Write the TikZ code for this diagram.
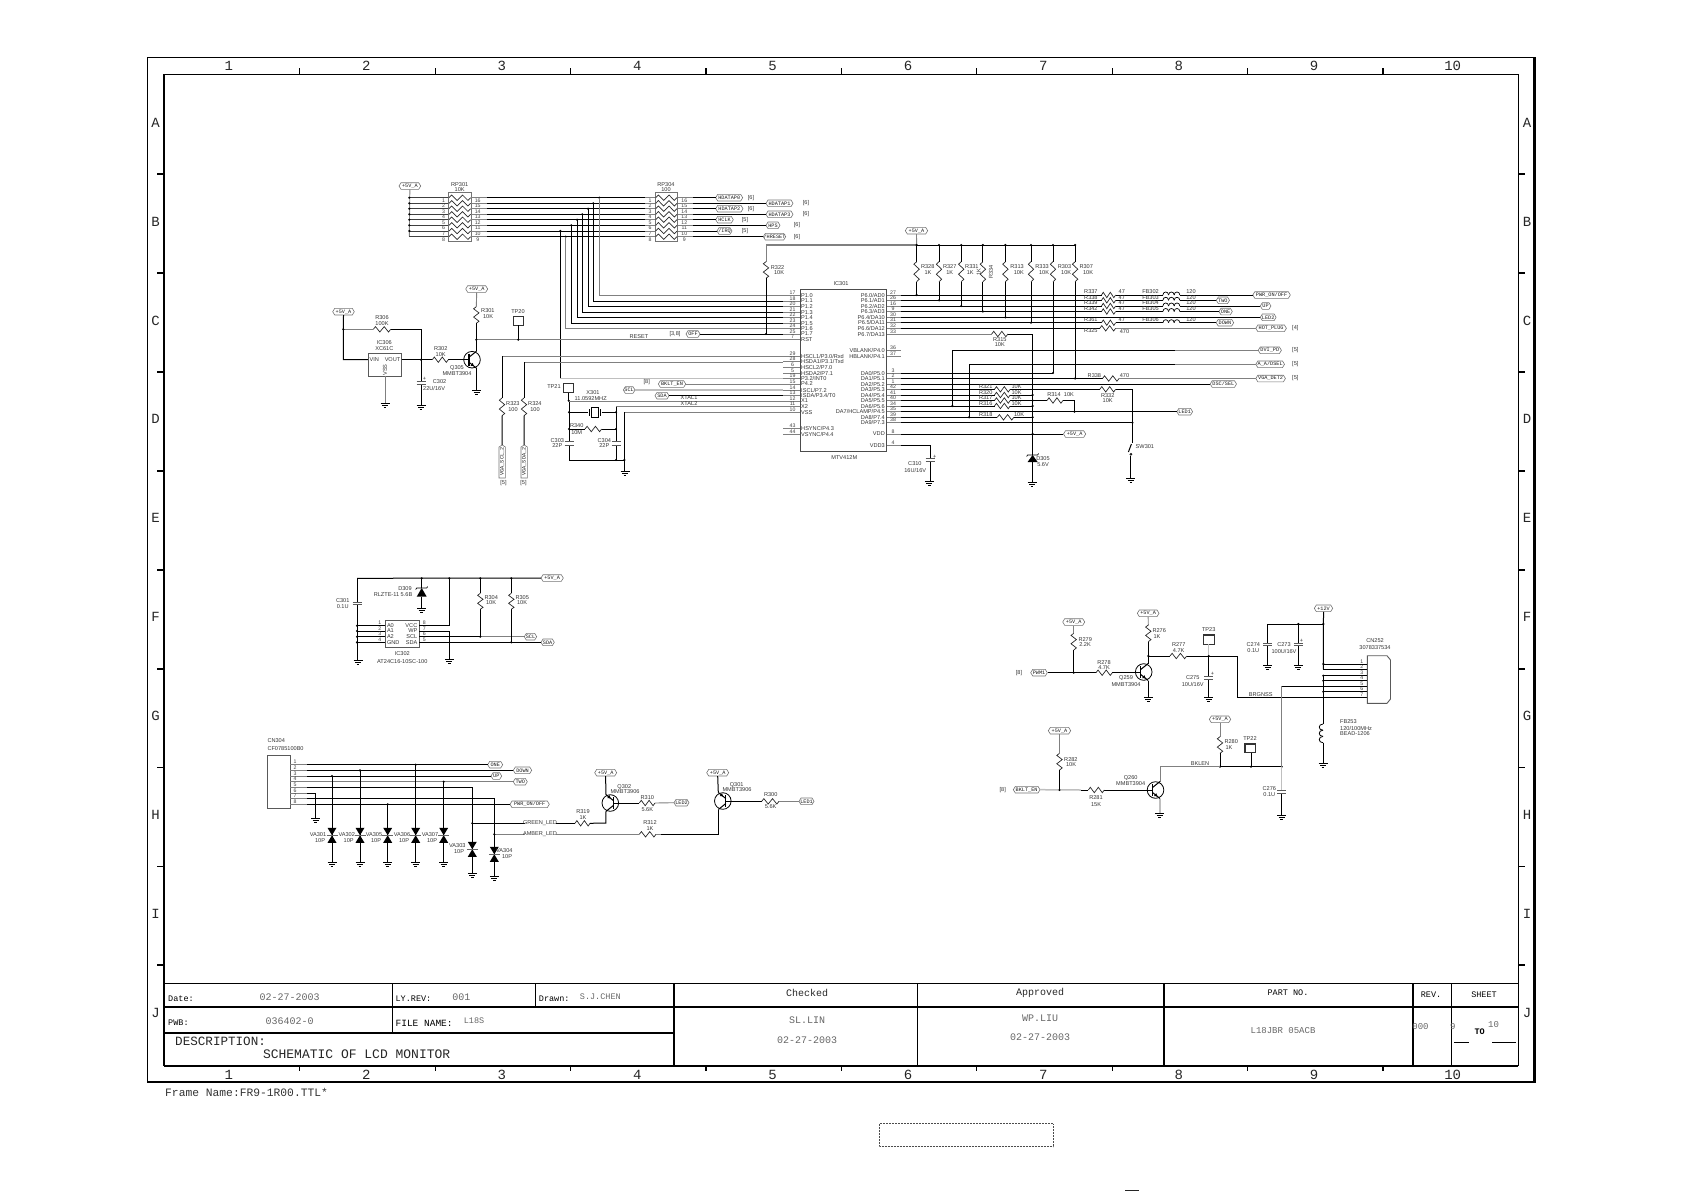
\documentclass[tikz,border=0pt]{standalone}
\usepackage{fontspec}
\setmainfont{Liberation Sans}
\newfontfamily\monof{Liberation Mono}
\newcounter{nn}
\tikzset{
 wb/.style={line width=1pt,black},
 wg/.style={line width=.9pt,black!50},
 wl/.style={line width=1.5pt,black!25},
 zz/.style={line width=.7pt,black!85},
 thin1/.style={line width=.7pt,black!65},
 lab/.style={inner sep=0pt,text=black!80,font=\fontsize{5.6}{6}\selectfont},
 pinn/.style={inner sep=0pt,text=black!75,font=\fontsize{5.2}{6}\selectfont},
 flg/.style={inner sep=0pt,minimum height=6.6pt,text=black!90,font=\monof\fontsize{5.2}{6}\selectfont},
 fline/.style={line width=.6pt,black!55},
 grid/.style={inner sep=0pt,text=black!85,font=\monof\fontsize{14}{15}\selectfont},
 tb/.style={inner sep=0pt,text=black,font=\monof\fontsize{#1}{12}\selectfont},
 tv/.style={inner sep=0pt,text=black!60,font=\monof\fontsize{#1}{12}\selectfont},
}
\newcommand{\LbC}[3]{\stepcounter{nn}\node[lab] (t\thenn) at ({#1},{#2}) {#3};}
\newcommand{\LbW}[3]{\stepcounter{nn}\node[lab,anchor=west] (t\thenn) at ({#1},{#2}) {#3};}
\newcommand{\LbE}[3]{\stepcounter{nn}\node[lab,anchor=east] (t\thenn) at ({#1},{#2}) {#3};}
\newcommand{\Pn}[3]{\stepcounter{nn}\node[pinn] (t\thenn) at ({#1},{#2}) {#3};}
\newcommand{\Zh}[3]{\pgfmathsetmacro\zd{(#2-#1)/8}\draw[zz] ({#1},{#3}) -- ++(\zd,-2.7) -- ++({2*\zd},5.4) -- ++({2*\zd},-5.4) -- ++({2*\zd},5.4) -- ++(\zd,-2.7);}
\newcommand{\Zv}[3]{\pgfmathsetmacro\zd{(#3-#2)/8}\draw[zz] ({#1},{#2}) -- ++(-2.7,\zd) -- ++(5.4,{2*\zd}) -- ++(-5.4,{2*\zd}) -- ++(5.4,{2*\zd}) -- ++(-2.7,\zd);}
\newcommand{\Gnd}[2]{\draw[wb,line width=.8pt] ({#1-4.5},{#2})--({#1+4.5},{#2}) ({#1-3},{#2+2})--({#1+3},{#2+2}) ({#1-1.3},{#2+4})--({#1+1.3},{#2+4});}
\newcommand{\Jd}[2]{\fill ({#1},{#2}) circle[radius=1.2pt];}
\newcommand{\Capa}[3]{\draw[thin1,line width=1pt] ({#1-4.5},{#2})--({#1+4.5},{#2}) ({#1-4.5},{#3})--({#1+4.5},{#3});}
\newcommand{\Fl}[5]{\pgfmathsetmacro\fw{#3-#2}\pgfmathsetmacro\fc{(#2+#3)/2}%
 \node[flg,minimum width=\fw pt] (#1) at (\fc,#4) {#5};%
 \draw[fline] (#2,#4) -- ({#2+2},{#4-3.3}) -- ({#3-2},{#4-3.3}) -- (#3,#4) -- ({#3-2},{#4+3.3}) -- ({#2+2},{#4+3.3}) -- cycle;}
\newcommand{\Tn}[3]{\begin{scope}[shift={(#1,#2)},xscale=#3]
 \draw[line width=.8pt] (0,0) circle[radius=8.3pt];
 \draw[wb,line width=1.2pt] (-3,-6)--(-3,6);
 \draw[wb] (-3,-2.5)--(4.5,-8.5) (-3,2.5)--(4.5,8.5);
 \fill (1.9,6.4)--(0.7,3.2)--(-1.5,6)--cycle;
\end{scope}}
\newcommand{\Tp}[3]{\begin{scope}[shift={(#1,#2)},xscale=#3]
 \draw[line width=.8pt] (0,0) circle[radius=8.3pt];
 \draw[wb,line width=1.2pt] (-3,-6)--(-3,6);
 \draw[wb] (-3,-2.5)--(4.5,-8.5) (-3,2.5)--(4.5,8.5);
 \fill (-.4,-4.6)--(3,-5)--(.8,-7.8)--cycle;
\end{scope}}
\newcommand{\Va}[2]{\fill ({#1-4.5},{#2-7.5})--({#1+4.5},{#2-7.5})--(#1,#2)--({#1+4.5},{#2+7.5})--({#1-4.5},{#2+7.5})--(#1,#2)--cycle; \draw[line width=.5pt,black!60] ({#1-5.5},#2)--({#1+5.5},#2);}
\newcommand{\Zen}[3]{\fill ({#1-5},#3)--({#1+5},#3)--(#1,#2)--cycle; \draw[line width=.7pt] ({#1-6},{#2+1.5})--({#1-5},#2)--({#1+5},#2)--({#1+6},{#2-1.5});}
\newcommand{\Coilh}[3]{\pgfmathsetmacro\cw{(#2-#1)/3}\foreach \ci in {0,1,2}{\draw[wb,line width=.7pt] ({#1+\ci*\cw},#3) .. controls ({#1+\ci*\cw},{#3-4}) and ({#1+(\ci+1)*\cw},{#3-4}) .. ({#1+(\ci+1)*\cw},#3);}}
\begin{document}
\begin{tikzpicture}[x=1pt,y=-1pt]
\useasboundingbox (0,0) rectangle (1685,1191);
% ---------- frame
\draw[line width=1.3pt] (147.3,57.3) rectangle (1534.4,1082);
\draw[line width=2.4pt] (1534.4,57.3)--(1534.4,1082)--(147.3,1082);
\draw[line width=1.3pt] (164,74.3) rectangle (1518.3,1065.7);
\draw[line width=2.8pt] (164,74.3)--(164,1065.7);
\draw[line width=2.2pt] (164,1065.7)--(1518.3,1065.7);
\foreach \k in {0,...,8}{
 \draw[line width=1.1pt] ({299.8+135.4*\k},68)--({299.8+135.4*\k},74.3) ({299.8+135.4*\k},1065.7)--({299.8+135.4*\k},1070.5);}
\foreach \yy in {174,273,372,471,570,669,767.6,866.5,965}{
 \draw[line width=1.1pt] (157,\yy)--(164,\yy) (1518.3,\yy)--(1525.3,\yy);}
\foreach \xx/\n in {228.9/1,366.4/2,501.8/3,637.2/4,772.6/5,908/6,1043.3/7,1178.7/8,1314/9,1452.7/10}{
 \stepcounter{nn}\node[grid] (t\thenn) at (\xx,66) {\n};
 \stepcounter{nn}\node[grid] (t\thenn) at (\xx,1075) {\n};}
\foreach \yy/\n in {122.5/A,221.5/B,320.4/C,419/D,518/E,617/F,716/G,815/H,914/I,1012.6/J}{
 \stepcounter{nn}\node[grid] (t\thenn) at (155.5,\yy) {\n};
 \stepcounter{nn}\node[grid] (t\thenn) at (1527,\yy) {\n};}
% ---------- title block
\draw[line width=1.3pt] (164,983.3)--(1518.3,983.3);
\draw[line width=2pt] (164,1007.3)--(1518.3,1007.3) (164,1032.7)--(673.7,1032.7);
\draw[line width=.9pt] (392.2,983.3)--(392.2,1032.7) (535,983.3)--(535,1007.3) (917.6,983.3)--(917.6,1065.7);
\draw[line width=1.6pt] (673.7,983.3)--(673.7,1065.7) (1163.7,983.3)--(1163.7,1065.7) (1413,983.3)--(1413,1065.7) (1451.6,983.3)--(1451.6,1065.7);
\draw[line width=.9pt] (1454,1042)--(1469,1042) (1492,1042)--(1516,1042);
\node[tb=8.5,anchor=west] (dateL) at (168,999) {Date:};
\node[tv=10] (dateV) at (289.6,996.7) {02-27-2003};
\node[tb=8.5,anchor=west] (lyL) at (395.4,999) {LY.REV:};
\node[tv=10] (lyV) at (461.4,996.7) {001};
\node[tb=8.5,anchor=west] (drL) at (538.7,999) {Drawn:};
\node[tv=8.5,anchor=west] (drV) at (579.7,997) {S.J.CHEN};
\node[tb=8.5,anchor=west] (pwbL) at (168,1023) {PWB:};
\node[tv=10] (pwbV) at (289.6,1021) {036402-0};
\node[tb=9.5,anchor=west] (fnL) at (395.4,1023) {FILE NAME:};
\node[tv=8.5] (fnV) at (474,1021) {L18S};
\node[tb=12.6,anchor=west,text=black!85] (descL) at (175,1041.7) {DESCRIPTION:};
\node[tb=13,anchor=west,text=black!85] (descV) at (262.8,1054.6) {SCHEMATIC OF LCD MONITOR};
\node[tb=10,text=black!85] (chk) at (807,993) {Checked};
\node[tv=10] (chk1) at (807,1020) {SL.LIN};
\node[tv=10] (chk2) at (807,1040) {02-27-2003};
\node[tb=10,text=black!85] (app) at (1040,993) {Approved};
\node[tv=10] (app1) at (1040,1018) {WP.LIU};
\node[tv=10] (app2) at (1040,1037) {02-27-2003};
\node[tb=8.5] (part) at (1288,993) {PART NO.};
\node[tv=9] (partV) at (1283,1031) {L18JBR 05ACB};
\node[tb=8.5] (rev) at (1431,995) {REV.};
\node[tb=8.5] (sheet) at (1484,995) {SHEET};
\node[tv=9] (revV) at (1420.5,1027) {000};
\node[tv=9] (sh1) at (1452.7,1027) {9};
\node[tv=9] (sh2) at (1493.6,1025) {10};
\node[tb=8.5,font=\monof\bfseries\fontsize{8.5}{10}\selectfont] (sh3) at (1479.6,1032) {TO};
\node[tb=11.3,anchor=west,text=black!80] (frm) at (165,1092.7) {Frame Name:FR9-1R00.TTL*};
\draw[line width=.5pt,densely dotted,black!70] (879,1123.5) rectangle (1053,1146.5);
\fill[black!85] (1125,1189.6) rectangle (1139,1191);
% ---------- RP301 / RP304
\Fl{fa}{399}{420.7}{186}{+5V\_A}
\draw[wg] (fa.south)--(409.3,236.3);
\draw[fline,line width=.8pt] (448.3,192.3) rectangle (471.3,241.7);
\draw[fline,line width=.8pt] (655,192.3) rectangle (677.7,241.7);
\LbC{459.7}{184.3}{RP301}\LbC{459.7}{189.7}{10K}
\LbC{666}{184.3}{RP304}\LbC{666}{189.7}{100}
\foreach \yy/\n/\m [count=\i] in {197.7/1/16,203.3/2/15,208.7/3/14,214.3/4/13,219.7/5/12,225.3/6/11,231/7/10,236.7/8/9}{
 \draw[wb,black!75] (409.3,\yy)--(448.3,\yy);
 \ifnum\i<8 \Jd{409.3}{\yy}\fi
 \Zh{449}{470.6}{\yy}\Zh{655.7}{677}{\yy}
 \Pn{443.5}{\yy+2.6}{\n}\Pn{477.7}{\yy+2.6}{\m}\Pn{650}{\yy+2.6}{\n}\Pn{684.3}{\yy+2.6}{\m}
 \draw[wg] (471.3,\yy)--(487.3,\yy) (645,\yy)--(655,\yy) (677.7,\yy)--(693,\yy);
 \draw[wb] (487.3,\yy)--(645,\yy);}
\Fl{hd0}{715.7}{742.7}{197.7}{HDATAP0}\Fl{hd1}{766}{793}{203.3}{HDATAP1}
\Fl{hd2}{715.7}{743}{208.7}{HDATAP2}\Fl{hd3}{766}{793}{214.3}{HDATAP3}
\Fl{hck}{715.7}{733.3}{219.7}{HCLK}\Fl{hps}{766}{780}{225.3}{HPS}
\Fl{irq}{717}{732}{231}{/IRQ}\Fl{hrs}{763.3}{785.7}{236.7}{/HRESET}
\foreach \f/\yy in {hd0/197.7,hd1/203.3,hd2/208.7,hd3/214.3,hck/219.7,hps/225.3,irq/231,hrs/236.7}{\draw[wb] (693,\yy)--(\f.west);}
\LbC{751}{197.7}{[6]}\LbC{806}{203.3}{[6]}\LbC{751}{208.7}{[6]}\LbC{806}{214.3}{[6]}
\LbC{745}{219.7}{[5]}\LbC{797}{225.3}{[6]}\LbC{745}{231}{[5]}\LbC{797}{236.7}{[6]}
% bus to IC
\foreach \xx/\ya/\yb in {599.3/197.7/295.3,593.3/203.3/301,588/208.7/306.7,582.3/214.3/312.3,577/219.7/317.7,571.3/225.3/323.3,565.7/236.7/328.7}{
 \Jd{\xx}{\ya}
 \draw[wb] (\xx,\ya)--(\xx,\yb)--(783,\yb);}
\draw[wg,line width=1.1pt] (599.3,197.7)--(599.3,295.3)--(783,295.3);
\draw[wg,line width=1.1pt] (565.7,236.7)--(565.7,328.7)--(783,328.7);
\Jd{560.3}{231}
\draw[wb] (560.3,231)--(560.3,378.7);
\draw[wl] (560.3,378.7)--(800,378.7);
% IC301
\draw[line width=.9pt,black!70] (800,289.3) rectangle (886,451.7);
\LbC{841}{284}{IC301}\LbC{844.3}{457.5}{MTV412M}
\foreach \yy/\n/\tx in {295.3/17/P1.0,301/18/P1.1,306.7/20/P1.2,312.3/21/P1.3,317.7/22/P1.4,323.3/23/P1.5,328.7/24/P1.6,334/25/P1.7,339.7/7/RST,356.3/29/{HSCL1/P3.0/Rxd},361.7/28/{HSDA1/P3.1/Txd},367.3/6/{HSCL2/P7.0},373/5/{HSDA2/P7.1},378.7/19/{P3.2/INT0},384/15/P4.2,390/14/{ISCL/P7.2},395.7/13/{ISDA/P3.4/T0},401/12/X1,406.7/11/X2,412.3/10/VSS,428.7/43/{HSYNC/P4.3},434.3/44/{VSYNC/P4.4}}{
 \draw[wg] (783,\yy)--(800,\yy);
 \Pn{792.5}{\yy-2.7}{\n}
 \LbW{801}{\yy}{\tx}}
\foreach \yy/\n/\tx in {295/27/{P6.0/AD0},300.3/26/{P6.1/AD1},306/16/{P6.2/AD2},311.5/9/{P6.3/AD3},317.3/30/{P6.4/DA10},322.7/31/{P6.5/DA11},328.3/32/{P6.6/DA12},334/33/{P6.7/DA13},350.3/36/{VBLANK/P4.0},356/37/{HBLANK/P4.1},373/3/{DA0/P5.0},378.5/2/{DA1/P5.1},384/1/{DA2/P5.2},389.3/42/{DA3/P5.3},395/41/{DA4/P5.4},400.5/40/{DA5/P5.5},406/34/{DA6/P5.6},411.7/35/{DA7/HCLAMP/P4.5},417.3/39/{DA8/P7.4},422.7/38/{DA9/P7.3},434/8/VDD,445.3/4/VDD3}{
 \draw[wg] (887,\yy)--(901.3,\yy);
 \Pn{893}{\yy-2.7}{\n}
 \LbE{885}{\yy}{\tx}}
% +5V bus and pull-ups
\Fl{fb}{905.3}{927.7}{230.7}{+5V\_A}
\draw[wg] (fb.south)--(916.6,245);
\draw[wg,line width=1.1pt] (766,245)--(916.6,245);
\draw[wb] (916.6,245)--(1075.1,245);
\foreach \xx/\yy in {916.6/295,939/300.3,961.2/306,982.9/311.5,1005.4/317.3,1031/322.7,1053/373,1075.1/378.5}{
 \Jd{\xx}{245}\Jd{\xx}{\yy}
 \draw[wb] (\xx,245)--(\xx,261.7) (\xx,281.7)--(\xx,\yy);
 \Zv{\xx}{261.7}{281.7}}
\LbW{920.8}{267}{R328}\LbC{928}{273}{1K}\LbW{942.8}{267}{R327}\LbC{949.7}{273}{1K}
\LbW{965}{267}{R331}\LbC{970.2}{273}{1K}
\node[lab,rotate=90] (r334) at (991,272) {R334};\node[lab,rotate=90] (r334v) at (978.8,272) {1K};
\LbW{1010.2}{267}{R313}\LbC{1018.8}{273}{10K}\LbW{1035.2}{267}{R333}\LbC{1044}{273}{10K}
\LbW{1057.6}{267}{R303}\LbC{1066.2}{273}{10K}\LbW{1079.3}{267}{R307}\LbC{1088}{273}{10K}
% R322
\draw[wg] (766,245)--(766,261.7);
\Zv{766}{261.7}{278.3}
\draw[wb] (766,278.3)--(766,334);
\LbW{770.7}{267.3}{R322}\LbC{779}{273}{10K}
\Fl{foff}{686}{700}{334}{OFF}\LbC{675}{334}{[3,8]}
\draw[wb] (foff.east)--(783,334);\Jd{766}{334}
% reset
\draw[wg] (476.3,339.7)--(783,339.7);
\LbC{639}{336.5}{RESET}
% feed rows to right
\Fl{fpwr}{1252.8}{1290.3}{295}{PWR\_ON/OFF}\Fl{ftwo}{1216.3}{1229.5}{300.3}{TWO}
\Fl{fup}{1260.3}{1270.9}{306}{UP}\Fl{fone}{1219}{1232.3}{311.5}{ONE}
\Fl{fdown}{1216.2}{1233.7}{322.7}{DOWN}
\foreach \yy/\f in {295/fpwr,300.3/ftwo,306/fup,311.5/fone,322.7/fdown}{
 \draw[wb] (901.3,\yy)--(1101.5,\yy) (1115.6,\yy)--(1162.9,\yy) (1179.8,\yy)--(\f.west);
 \Zh{1101.5}{1115.6}{\yy}\Coilh{1162.9}{1179.8}{\yy}}
\foreach \yy/\a/\b in {292/R337/FB302,297.3/R338/FB303,303/R339/FB304,309/R342/FB305,319.5/R361/FB306}{
 \LbC{1090.9}{\yy}{\a}\LbC{1121.8}{\yy}{47}\LbC{1150.5}{\yy}{\b}\LbC{1191}{\yy}{120}}
\Fl{fled2}{1260.3}{1276.1}{317.3}{LED2}
\draw[wb] (901.3,317.3)--(fled2.west);
\Fl{fhot}{1255.8}{1286.4}{328.3}{HOT\_PLUG}\LbC{1295.3}{328.3}{[4]}
\draw[wb] (901.3,328.3)--(1099.8,328.3);\Zh{1099.8}{1115.6}{328.3}
\draw[wg] (1115.6,328.3)--(fhot.west);
\LbC{1090.9}{331}{R325}\LbC{1124.5}{331.7}{470}
% R315
\draw[wg] (901.3,334)--(991.7,334);\Zh{991.7}{1007.9}{334}
\draw[wb] (1007.9,334)--(1032.6,334)--(1032.6,455);
\LbC{999.8}{340}{R315}\LbC{999.8}{345}{10K}
% DVI / AA
\Fl{fdvi}{1258.2}{1281.4}{350.3}{DVI\_PD}\LbC{1295.3}{350.3}{[5]}
\draw[wb] (952.4,350.3)--(1174.8,350.3);\draw[wg] (1174.8,350.3)--(fdvi.west);
\draw[wb] (952.4,350.3)--(952.4,406);\Jd{952.4}{406}
\Fl{faa}{1255.8}{1284.5}{364.3}{A\_A/DSEL}\LbC{1295.3}{364.3}{[5]}
\draw[wb] (969,364.3)--(1174.8,364.3);\draw[wg] (1174.8,364.3)--(faa.west);
\draw[wb] (969,364.3)--(969,417.3);\Jd{969}{417.3}
% DA0, DA1
\draw[wb] (901.3,373)--(1053,373);
\draw[wb] (901.3,378.5)--(1102.5,378.5);\Zh{1102.5}{1119}{378.5}
\Fl{fvga}{1255.8}{1285.4}{378.5}{VGA\_DET2}\LbC{1295.3}{378.5}{[5]}
\draw[wg] (1119,378.5)--(fvga.west);
\LbC{1094.4}{375.7}{R338}\LbC{1124.5}{376}{470}
\Fl{fdsc}{1210.2}{1236.5}{384}{DSC/SEL}
\draw[wb] (901.3,384)--(fdsc.west);
% R321 group
\foreach \yy/\a in {389.3/R321,395/R320,400.5/R317,406/R316}{
 \draw[wb] (901.3,\yy)--(994.5,\yy) (1010.2,\yy)--(1032.6,\yy);
 \Zh{994.5}{1010.2}{\yy}
 \LbC{985.7}{\yy-2.5}{\a}\LbC{1016.5}{\yy-2.5}{10K}}
\Jd{1032.6}{395}\Jd{1032.6}{400.5}\Jd{1032.6}{406}\Jd{1032.6}{417.3}\Jd{1032.6}{434}
\draw[wb] (1032.6,400.5)--(1047,400.5) (1062.9,400.5)--(1074.4,400.5)--(1074.4,411.7);
\Zh{1047}{1062.9}{400.5}\Jd{1074.4}{411.7}
\LbC{1054}{395}{R314}\LbC{1068.9}{395}{10K}
\Fl{fled1}{1176.8}{1192.6}{411.7}{LED1}
\draw[wb] (901.3,411.7)--(fled1.west);
\draw[wb] (901.3,417.3)--(997.3,417.3) (1013.8,417.3)--(1032.6,417.3);
\Zh{997.3}{1013.8}{417.3}
\LbC{985.7}{415}{R318}\LbC{1019}{415}{10K}
% R332, SW
\draw[wb] (1032.6,389.3)--(1099.8,389.3) (1115.6,389.3)--(1132.4,389.3)--(1132.4,443);
\Zh{1099.8}{1115.6}{389.3}
\LbC{1107.7}{395.7}{R332}\LbC{1107.7}{400.7}{10K}
\draw[wb] (901.3,422.7)--(1132.4,422.7);\Jd{1132.4}{422.7}
\draw[wb] (1128.4,452)--(1131.4,444);
\draw[line width=.6pt] (1130.9,454.3) circle[radius=1pt];
\draw[wb] (1130.9,455.5)--(1130.9,478);
\Gnd{1130.9}{478}
\LbC{1144.9}{447}{SW301}
% VDD, VDD3
\Fl{fvdd}{1063.5}{1085.7}{434}{+5V\_A}
\draw[wb] (901.3,434)--(fvdd.west);
\draw[wb] (901.3,445.3)--(930.2,445.3)--(930.2,458.3) (930.2,461.7)--(930.2,481);
\Capa{930.2}{458.3}{461.7}\Gnd{929.4}{481}
\LbC{914.9}{464}{C310}\LbC{915.2}{470}{16U/16V}\LbC{934.8}{457}{+}
% D305
\Zen{1032.6}{455}{462}
\draw[wb] (1032.6,462)--(1032.6,482);\Gnd{1032.1}{482}
\LbC{1043}{459}{D305}\LbC{1043}{464.5}{5.6V}
% ---------- left of IC
\Fl{f5c}{465.7}{487.7}{289}{+5V\_A}
\draw[wg] (f5c.south)--(476.3,306.7);
\Zv{476.3}{306.7}{323.3}
\draw[wb] (476.3,323.3)--(476.3,351.3) (476.5,368.2)--(476.5,390);
\Jd{476.3}{339.7}\Gnd{476.5}{390}
\LbW{481}{311}{R301}\LbC{488}{317}{10K}
\Tn{472}{359.7}{1}
\LbC{457}{367.7}{Q305}\LbC{457}{373.7}{MMBT3904}
\draw[wb,line width=1.2pt,black!80] (513.3,316.7) rectangle (523.3,325.3);
\LbC{518}{311.7}{TP20}
\draw[wb] (518.3,325.3)--(518.3,339.7);\Jd{518.3}{339.7}
% IC306
\Fl{f5d}{332.7}{354.3}{311.7}{+5V\_A}
\draw[wb] (f5d.south)--(343.3,359.7)--(368.3,359.7);
\draw[wg] (343.3,329.3)--(373.3,329.3);\Zh{373.3}{390.7}{329.3}
\draw[wb] (390.7,329.3)--(421,329.3)--(421,381.5) (421,384.5)--(421,405);
\Jd{343.3}{329.3}\Jd{421}{359.7}
\Capa{421}{381.5}{384.5}\Gnd{421}{405}
\LbC{382}{317.7}{R306}\LbC{382}{323.5}{100K}
\draw[line width=.8pt,black!65] (368.3,353.7) rectangle (401.7,376.3);
\LbC{384.3}{343}{IC306}\LbC{384.3}{349}{XC61C}
\LbW{369.5}{360}{VIN}\LbE{400.5}{360}{VOUT}
\node[lab,rotate=90] (vss6) at (385,370) {VSS};
\draw[wg] (385,376.3)--(385,403);\Gnd{385}{403}
\draw[wb] (401.7,359.7)--(432.3,359.7) (448.3,359.7)--(469,359.7);
\Zh{432.3}{448.3}{359.7}
\LbC{440.7}{348.7}{R302}\LbC{440.7}{354.3}{10K}
\LbW{432.7}{382}{C302}\LbW{423}{388.2}{22U/16V}\LbC{424.5}{378.5}{+}
% R323, R324
\draw[wg] (502,356.3)--(783,356.3);\draw[wg] (524,362)--(783,362);
\draw[wb] (502,356.3)--(502,398) (524,362)--(524,398);
\Zv{502}{398}{415.7}\Zv{524}{398}{415.7}
\LbW{506}{404}{R323}\LbC{513}{410}{100}\LbW{528}{404}{R324}\LbC{535}{410}{100}
\node[flg,rotate=90,minimum width=33pt,minimum height=6pt] (vsc) at (502.2,461.5) {VGA\_SCL\_2};
\node[flg,rotate=90,minimum width=33pt,minimum height=6pt] (vsd) at (524.2,461.5) {VGA\_SDA\_2};
\draw[fline] (499,447)--(502.2,445)--(505.4,447)--(505.4,478)--(499,478)--cycle;
\draw[fline] (521,447)--(524.2,445)--(527.4,447)--(527.4,478)--(521,478)--cycle;
\draw[wb] (502,415.7)--(vsc.east) (524,415.7)--(vsd.east);
\LbC{503.5}{482.7}{[5]}\LbC{523.5}{482.7}{[5]}
% TP21 and crystal
\draw[wb,line width=1.2pt,black!80] (563.3,383.3) rectangle (573.7,392.7);
\LbC{554}{386.7}{TP21}
\draw[wb] (568.7,392.7)--(568.7,400.7);\Jd{568.7}{400.7}
\draw[wb] (569,400.7)--(569,441.7) (569,445)--(569,460)--(625,460);
\Capa{569}{441.7}{445}
\Jd{569}{412.3}\Jd{569}{429}
\draw[wb] (569,412.3)--(588,412.3) (601.7,412.3)--(616,412.3);
\draw[wb] (589.2,409)--(589.2,415.6) (600.5,409)--(600.5,415.6);
\draw[line width=.7pt] (591,407.5) rectangle (598.7,417);
\draw[wb] (569,429)--(585,429) (601.7,429)--(616,429);
\Zh{585}{601.7}{429}
\LbC{593}{392.7}{X301}\LbC{590.7}{398.7}{11.0592MHZ}
\LbC{576.7}{426}{R340}\LbC{576.7}{432.7}{10M}
\draw[wg] (569,401)--(783,401);\LbC{689}{398}{XTAL1}
\draw[wg] (616,406.7)--(783,406.7);\LbC{689}{403.7}{XTAL2}
\draw[wg] (624.3,412.3)--(783,412.3);
\draw[wb] (616,406.7)--(616,441.7) (616,445)--(616,460);
\Capa{616}{441.7}{445}\Jd{616}{429}\Jd{616}{460}\Jd{616}{412.3}
\draw[wb] (624.3,412.3)--(624.3,471);\Jd{624.3}{460}\Gnd{625}{471}
\LbC{557.3}{440.7}{C303}\LbC{557.3}{446}{22P}\LbC{604.3}{440.7}{C304}\LbC{604.3}{446}{22P}
\Fl{fscl}{623.3}{635}{390}{SCL}
\draw[wl] (fscl.east)--(783,390);
\Fl{fsda}{655}{669}{395.7}{SDA}
\draw[wb] (fsda.east)--(783,395.7);
\Fl{fbk}{658.3}{685.7}{384}{BKLT\_EN}\LbC{646.7}{382}{[8]}
\draw[wg] (fbk.east)--(783,384);
% ---------- EEPROM
\Fl{fe}{541}{563.3}{578}{+5V\_A}
\draw[wb] (357,578.3)--(fe.west);
\draw[wb] (357,578.3)--(357,602.3) (357,604.8)--(357,660);
\Capa{357}{602.3}{604.8}\Gnd{358}{660}
\LbC{342.7}{600.7}{C301}\LbC{342.7}{606.3}{0.1U}
\draw[line width=.8pt,black!65] (385.3,620.7) rectangle (419,647.7);
\foreach \yy/\n/\m/\a/\b in {625.7/1/8/A0/VCC,631/2/7/A1/WP,636.7/3/6/A2/SCL,642.3/4/5/GND/SDA}{
 \draw[wb] (357,\yy)--(385.3,\yy);\Jd{357}{\yy}
 \Pn{379.7}{\yy-2.7}{\n}\Pn{424.3}{\yy-2.7}{\m}
 \LbW{386.8}{\yy}{\a}\LbE{417.5}{\yy}{\b}}
\draw[wb] (419,625.7)--(449.3,625.7)--(449.3,578.3);\Jd{449.3}{578.3}
\draw[wb] (419,631)--(449.3,631)--(449.3,659);\Gnd{449.3}{659}
\Fl{fsc2}{524.3}{536.7}{636.7}{SCL}\Fl{fsd2}{541}{554.3}{642.3}{SDA}
\draw[wb] (419,636.7)--(480.3,636.7);\draw[wg] (480.3,636.7)--(fsc2.west);
\draw[wb] (419,642.3)--(fsd2.west);
\foreach \xx/\yy in {480.3/636.7,511.3/642.3}{
 \Jd{\xx}{578.3}\Jd{\xx}{\yy}
 \draw[wb] (\xx,578.3)--(\xx,593.3) (\xx,609.3)--(\xx,\yy);
 \Zv{\xx}{593.3}{609.3}}
\LbW{484.3}{597.7}{R304}\LbC{491}{603}{10K}\LbW{515.3}{597.7}{R305}\LbC{522}{603}{10K}
\draw[wb] (421.7,578.3)--(421.7,588) (421.7,596.7)--(421.7,608);\Jd{421.7}{578.3}
\Zen{421.7}{588}{596.7}\Gnd{421.7}{608}
\LbC{405}{589}{D309}\LbC{393}{594.7}{RLZTE-11 5.6B}
\LbC{402.3}{654}{IC302}\LbC{402.3}{662}{AT24C16-10SC-100}
% ---------- CN304
\draw[line width=.9pt,black!65] (267.3,755.3) rectangle (290,808.7);
\LbW{267.3}{741}{CN304}\LbW{267.3}{748.3}{CF0785100B0}
\foreach \yy/\n in {764.7/1,770.3/2,776/3,781.7/4,787.3/5,793/6,798.7/7,804.3/8}{\draw[wg] (290,\yy)--(307,\yy);\Pn{295}{\yy-2.7}{\n}}
\Fl{fone2}{487.7}{502.7}{764.7}{ONE}\Fl{fdn2}{513.3}{531.7}{770.3}{DOWN}
\Fl{fup2}{491}{501.7}{776}{UP}\Fl{ftw2}{513.3}{527.3}{781.7}{TWO}
\Fl{fpw2}{510}{549.3}{804.3}{PWR\_ON/OFF}
\draw[wb] (307,764.7)--(fone2.west) (307,770.3)--(fdn2.west) (307,776)--(fup2.west) (307,804.3)--(fpw2.west);
\draw[wg] (307,781.7)--(ftw2.west);
\draw[wb] (307,787.3)--(472.3,787.3)--(472.3,873);
\draw[wb] (307,793)--(315.7,793)--(315.7,818.3);\Gnd{315.7}{818.3}
\draw[wb] (307,798.7)--(494.3,798.7)--(494.3,876.7);
\foreach \xx/\yy in {332/776,360/770.3,387.7/804.3,415.7/764.7,443.7/781.7}{
 \Jd{\xx}{\yy}
 \draw[wb] (\xx,\yy)--(\xx,862.7);
 \Va{\xx}{835.3}\Gnd{\xx}{862.7}}
\Va{472.3}{849.3}\Gnd{472.3}{873}
\Va{494.3}{854.3}\Gnd{494.3}{876.7}
\foreach \a/\xx in {VA301/318,VA302/346.7,VA305/374,VA306/402,VA307/430}{\LbC{\xx}{834.3}{\a}\LbC{\xx+2}{840.3}{10P}}
\LbC{457.3}{845.7}{VA303}\LbC{459}{851.7}{10P}\LbC{504.3}{850.7}{VA304}\LbC{507}{856.7}{10P}
\draw[wb] (472.3,823.3)--(525,823.3) (556,823.3)--(575,823.3);\Jd{472.3}{823.3}
\LbC{540}{823.3}{GREEN\_LED}
\draw[wg] (494.3,834.3)--(525,834.3) (556,834.3)--(639.3,834.3);\Jd{494.3}{834.3}
\LbC{540}{834.3}{AMBER\_LED}
\Zh{575}{590}{823.3}\LbC{583}{812}{R319}\LbC{583}{817.7}{1K}
% Q302 / Q301
\Fl{fq2}{594.7}{616.7}{772.7}{+5V\_A}
\draw[wb] (fq2.south)--(605.8,794.5) (605.8,811.5)--(605.8,823)--(590,823.3);
\Tp{610.3}{803}{-1}
\draw[wb] (613.3,803)--(639.3,803);\Zh{639.3}{655}{803}
\Fl{fl2}{674}{689}{802.7}{LED2}
\draw[wg] (655,803)--(fl2.west);
\LbC{624.3}{786.7}{Q302}\LbC{625}{792}{MMBT3906}\LbC{647.3}{797.3}{R310}\LbC{647.3}{809.3}{5.6K}
\Zh{639.3}{656}{834.3}
\draw[wb] (661,834.3)--(718.3,834.3)--(718.3,809.5);
\draw[wg] (656,834.3)--(661,834.3);
\LbC{650}{822.7}{R312}\LbC{650}{828.3}{1K}
\Fl{fq1}{706.7}{728.7}{772.7}{+5V\_A}
\draw[wb] (fq1.south)--(718.3,792.5);
\Tp{722.8}{801}{-1}
\draw[wb] (725.8,801.3)--(761.7,801.3);\Zh{761.7}{779}{801.3}
\Fl{fl1}{799}{814}{801.3}{LED1}
\draw[wg] (779,801.3)--(fl1.west);
\LbC{736.7}{785}{Q301}\LbC{737}{790}{MMBT3906}\LbC{770.7}{795}{R300}\LbC{770.7}{807}{5.6K}
% ---------- backlight
\Fl{fr1}{1062.7}{1084.7}{622}{+5V\_A}
\draw[wg] (fr1.south)--(1073.7,633.3);\Zv{1073.7}{633.3}{650}
\draw[wb] (1073.7,650)--(1073.7,672.7);\Jd{1073.7}{672.7}
\LbW{1078.3}{639.3}{R279}\LbC{1085}{645}{2.2K}
\Fl{fpwm}{1030.7}{1047.3}{672.7}{PWM1}\LbC{1019}{673}{[8]}
\draw[wb] (fpwm.east)--(1096,672.7) (1112.3,672.7)--(1140.7,672.7);
\Zh{1096}{1112.3}{672.7}
\LbC{1104}{662.3}{R278}\LbC{1104}{667.5}{4.7K}
\Tn{1143.7}{672}{1}
\LbC{1126}{678.3}{Q259}\LbC{1126}{684.7}{MMBT3904}
\Fl{fr2}{1137.3}{1159}{613.3}{+5V\_A}
\draw[wg] (fr2.south)--(1148.3,625);\Zv{1148.3}{625}{641.7}
\draw[wb] (1148.3,641.7)--(1148.3,663.5) (1148.3,680.5)--(1148.3,697.3);\Gnd{1148.3}{697.3}
\Jd{1148.3}{656}
\LbW{1152.3}{630.7}{R276}\LbC{1157}{637}{1K}
\draw[wb] (1148.3,656)--(1170,656) (1186.7,656)--(1237.3,656)--(1237.3,697.3)--(1367.3,697.3);
\Zh{1170}{1186.7}{656}
\LbC{1178.7}{645}{R277}\LbC{1178.7}{650.3}{4.7K}
\LbC{1260.7}{694.3}{BRGNSS}
\draw[wb,line width=1.2pt,black!80] (1203.3,635) rectangle (1214.3,644.3);
\LbC{1208.7}{630}{TP23}
\draw[wl] (1208.7,644.3)--(1208.7,656);\Jd{1208.7}{656}
\draw[wb] (1208.7,656)--(1208.7,676) (1208.7,679.3)--(1208.7,697.3);
\Capa{1208.7}{676}{679.3}\Gnd{1208.7}{697.3}
\LbC{1192.7}{677.3}{C275}\LbC{1192.7}{684}{10U/16V}\LbC{1212.5}{673.5}{+}
% CN252
\draw[line width=.9pt,black!65] (1367.3,655.7)--(1387,655.7)--(1390.5,660)--(1390.5,699)--(1387,703.3)--(1367.3,703.3)--cycle;
\LbC{1375}{640.7}{CN252}\LbC{1375}{647.3}{3078337534}
\foreach \yy/\n in {664/1,669.3/2,675.7/3,680.7/4,686/5,691.7/6,697.3/7}{\Pn{1361.7}{\yy-2.7}{\n}}
\Fl{f12}{1314.3}{1332.7}{608.3}{+12V}
\draw[wb] (f12.south)--(1323.3,669.3);
\draw[wb] (1267.7,624)--(1323.3,624);\Jd{1323.3}{624}\Jd{1298.3}{624}\Jd{1323.3}{664}
\draw[wb] (1323.3,664)--(1367.3,664) (1323.3,669.3)--(1367.3,669.3);
\draw[wb] (1267.7,624)--(1267.7,643.3) (1267.7,645.5)--(1267.7,665);\Capa{1267.7}{643.3}{645.5}\Gnd{1267.7}{665}
\draw[wb] (1298.3,624)--(1298.3,643.3) (1298.3,645.8)--(1298.3,665);\Capa{1298.3}{643.3}{645.8}\Gnd{1298.3}{665}
\LbC{1253.3}{645}{C274}\LbC{1253.3}{650.3}{0.1U}\LbC{1284}{644.5}{C273}\LbC{1284}{651}{100U/16V}\LbC{1301.5}{640.5}{+}
\foreach \yy in {675.7,680.7,691.7}{\draw[wb] (1323.3,\yy)--(1367.3,\yy);\Jd{1323.3}{\yy}}
\draw[wb] (1323.3,675.7)--(1323.3,724);
\draw[wb] (1281.7,686)--(1367.3,686);
\draw[wb] (1323,742.7)--(1323,763.3);\Gnd{1323}{763.3}
\foreach \ya/\yb in {724/730.2,730.2/736.4,736.4/742.7}{\draw[wb,line width=.8pt] (1323,\ya) .. controls (1318,\ya) and (1318,\yb) .. (1323,\yb);}
\LbW{1340}{722}{FB253}\LbW{1340}{728}{120/100MHz}\LbW{1340}{734}{BEAD-1206}
\Fl{fr3}{1209.3}{1230.7}{719.3}{+5V\_A}
\draw[wg] (fr3.south)--(1220,736.7);\Zv{1220}{736.7}{753.3}
\draw[wb] (1220,753.3)--(1220,766.7);\Jd{1220}{766.7}
\LbW{1224.3}{742}{R280}\LbC{1229}{747.3}{1K}
\draw[wb,line width=1.2pt,black!80] (1245,744) rectangle (1255.7,752.7);
\LbC{1250}{738.7}{TP22}
\draw[wb] (1251,752.7)--(1251,766.7);\Jd{1251}{766.7}
\draw[wg] (1160,781.5)--(1160,766.7)--(1220,766.7);
\draw[wb] (1220,766.7)--(1281.7,766.7);\Jd{1281.7}{766.7}
\draw[wg] (1281.7,686)--(1281.7,766.7);
\LbC{1200}{763.3}{BKLEN}
\draw[wl] (1281.7,766.7)--(1281.7,790.7);
\draw[wb] (1281.7,793.3)--(1281.7,815);\Capa{1281.7}{790.7}{793.3}\Gnd{1281.7}{815}
\LbC{1269.3}{788.7}{C276}\LbC{1269.3}{794.3}{0.1U}
\Tn{1155.5}{790}{1}
\draw[wl] (1160,798.5)--(1160,813);\Gnd{1159.5}{813.3}
\LbC{1130.7}{778.3}{Q260}\LbC{1130.7}{784}{MMBT3904}
\Fl{fbk2}{1013.3}{1040}{789.7}{BKLT\_EN}\LbC{1002.7}{789.7}{[8]}
\draw[wl] (fbk2.east)--(1081,790);
\draw[wb] (1081,790)--(1088.3,790) (1104.3,790)--(1152.5,790);
\Zh{1088.3}{1104.3}{790}
\LbC{1096}{798}{R281}\LbC{1096}{804.3}{15K}
\Fl{fr4}{1048.3}{1070.7}{730.7}{+5V\_A}
\draw[wg] (fr4.south)--(1059.5,753.3);\Zv{1059.5}{753.3}{770}
\draw[wb] (1059.5,770)--(1059.5,790);\Jd{1059.5}{790}
\LbW{1064}{759.3}{R282}\LbC{1071}{765}{10K}
\end{tikzpicture}
\end{document}
